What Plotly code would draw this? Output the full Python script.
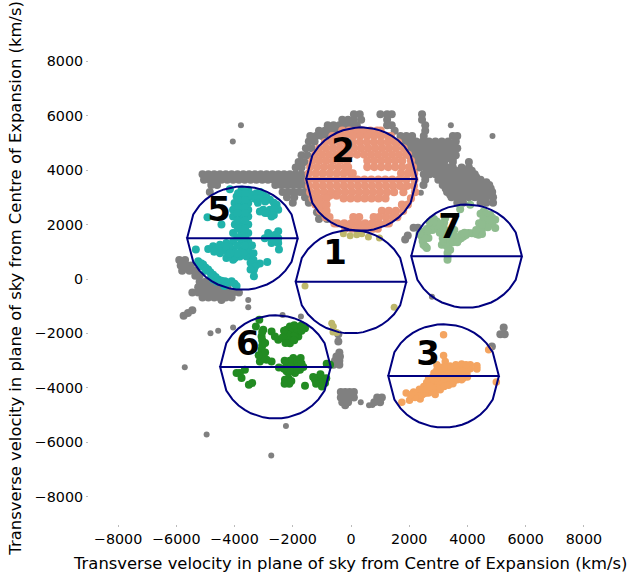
import numpy as np
import plotly.graph_objects as go

title_text = "Transverse velocity in plane of sky from Centre of Expansion (km/s)"
tick_vals = [-8000, -6000, -4000, -2000, 0, 2000, 4000, 6000, 8000]

gray_rows = [
    (6050, [100, 300, 1010, 1240, 1400, 2440]),
    (5850, [-300, -100, 100, 350, 1240, 2440]),
    (5650, [-800, -600, -400, -200, 0, 200, 1240, 1400, 2550]),
    (5450, [-1100, -900, -700, -500, -300, -100, 1500, 2550]),
    (5250, [-1400, -1200, -1000, -800, -600, -400, 1700, 1900, 2100, 2500, 3500, 3650]),
    (5050, [-1450, -1250, 1800, 2020, 2240, 2460, 2680, 2900, 3120, 3340, 3600]),
    (4925, [2000, 2200, 2400, 2600, 2800, 3000, 3200, 3400]),
    (4800, [-1550, -1350, 1900, 2100, 2300, 2500, 2700, 2900, 3100, 3300, 3500, 3650]),
    (4675, [2100, 2300, 2500, 2700, 2900, 3100, 3300, 3500]),
    (4550, [-1700, -1500, 2000, 2200, 2400, 2600, 2800, 3000, 3200, 3400, 3600]),
    (4425, [2300, 2500, 2700, 2900, 3100, 3300, 3500]),
    (4300, [-1800, -1600, 2200, 2400, 2600, 2800, 3000, 3200, 3500, 4050]),
    (4100, [-1900, -1700, 2350, 2550, 2750, 2950, 3150, 3350, 3500, 3800, 4050]),
    (3975, [2600, 2800, 3000, 3200, 3400, 3600, 3900, 4150]),
    (3850, [-5100, -4900, -4700, -4500, -4300, -4100, -3900, -3700, -3500, -3300, -3100, -2900, -2700, -2500, -2300, -2100, -1900, -1700, 2500, 2700, 2900, 3100, 3300, 3500, 3700, 3900, 4100, 4250]),
    (3750, [-5000, -4800, -4600, -4400, -4200, -4000, -3800, -3600, -3400, -3200, -3000, -2800, -2600, -2400, -2200, -2000, -1800, 3100, 3300, 3500, 3700, 3900, 4100, 4300]),
    (3650, [-5050, -4850, -4650, -4450, -4250, -4050, -3850, -3650, -3450, -3250, -3050, -2850, -2650, -2450, -2250, -2050, -1850, -1650, 2550, 3000, 3200, 3400, 3600, 3800, 4000, 4200, 4450]),
    (3550, [3250, 3450, 3650, 3850, 4050, 4250, 4450, 4650]),
    (3450, [-4800, -4600, -2600, -2400, -2200, -2000, -1800, -1600, 2490, 3150, 3350, 3550, 3750, 3950, 4150, 4350, 4550, 4750]),
    (3325, [3250, 3450, 3650, 3850, 4050, 4250, 4450, 4650, 4800]),
    (3200, [-4850, -2350, -2150, -1950, -1750, -1550, 3300, 3500, 3700, 3900, 4100, 4300, 4500, 4700, 4850]),
    (3100, [3400, 3600, 3800, 4000, 4200, 4400, 4600, 4800]),
    (3000, [-2200, -1950, -1580, 3450, 3650, 3850, 4050, 4250, 4450, 4650, 4880]),
    (2800, [-2000, -1450, 3650, 3850, 4450, 4650, 4880]),
    (2450, [-1170, -950]),
    (2200, [-1100, -820]),
    (1880, [2150, 2300]),
    (1600, [1950]),
    (1450, [1860]),
    (700, [-5900, -5700]),
    (500, [-5850, -5650, -5500]),
    (300, [-5800, -5550, -5350]),
    (120, [-5350, -5200]),
    (-100, [-5200, -5000, -4800]),
    (-300, [-5250, -5050, -4850, -4650, -4450, -4250]),
    (-500, [-5450, -5250, -5050, -4850, -4650, -4450, -4250, -4050, -3850]),
    (-680, [-5100, -4900, -4700, -4500, -4300, -4100]),
    (-770, [-4450]),
    (-1150, [-5450]),
    (-1250, [-5600]),
    (-1350, [-5750]),
    (-1780, [5245]),
    (-2030, [-435, 5130, 5280]),
    (-2300, [-435]),
    (-2480, [4840]),
    (-2700, [-400]),
    (-2850, [-500, -380]),
    (-3000, [-550, -400]),
    (-3150, [-600, -400]),
    (-4150, [-350, -200, -50, 100]),
    (-4350, [-350, -200, -50, 100, 1060, 900]),
    (-4530, [-300, -100, 800, 1000]),
    (-4640, [-200]),
]

single_x = [-3780, -4060, 3430, 4860, -3530, -3530, -4050, -4563, -4827, -2350, -1720, -5710, -2235, -4960, -2740,
            335, 620, 735, 2780, 2400]
single_y = [5650, 5050, 5650, 5250, -770, -1040, -1780, -1905, -1990, -1320, -1380, -3245, -5400, -5710, -6480,
            -4530, -4640, -4630, -650, 3170]

red_rows = [
    (5450, [-300, -60, 180, 420, 660, 900, 1020]),
    (5250, [-640, -400, -160, 80, 320, 560, 800, 1040, 1280, 1370]),
    (5020, [-900, -660, -420, -180, 60, 300, 540, 780, 1020, 1260, 1500, 1620]),
    (4800, [-1090, -850, -610, -370, -130, 110, 350, 590, 830, 1070, 1310, 1550, 1810]),
    (4570, [-1230, -990, -750, -510, -270, -30, 210, 450, 690, 930, 1170, 1410, 1650, 1890, 1960]),
    (4340, [-1330, -1090, -850, -610, -370, -130, 560, 800, 1040, 1280, 1520, 1760, 2060]),
    (4110, [-1400, -1160, -920, -680, -440, -200, -100, 560, 800, 1040, 1280, 1520, 1760, 2000, 2130]),
    (3880, [-1450, -1210, -970, -730, -490, -250, -10, 60, 1720, 1960, 2170]),
    (3650, [-1460, -1220, -980, -740, -500, -260, -20, 220, 460, 700, 940, 1180, 1420, 1660, 1900, 2180]),
    (3420, [-1440, -1200, -960, -720, -480, -240, 0, 240, 480, 720, 960, 1200, 1440, 1680, 1920, 2160]),
    (3190, [-1400, -1160, -920, -680, -440, -200, 40, 280, 520, 760, 1000, 1240, 1480, 1800, 2200]),
    (3060, [-735, -495]),
    (2960, [-1320, -1080, -840, -255, -15, 225, 465, 705, 945, 1185, 2060]),
    (2730, [-1220, -980, -840, 1750, 1950]),
    (2500, [-1060, -840, 1060, 1300, 1540, 1790]),
    (2270, [-870, -740, 80, 280, 780, 960, 1200, 1440, 1590]),
    (2040, [-570, -470, -230, 10, 250, 490, 730, 970, 1210, 1300]),
    (1850, [-200, 40, 280, 520, 760, 920]),
]

teal_x = [-4160, -3760, -3530, -3930, -3700, -3470, -3240, -3015, -2785, -2555, -2500, -2785, -2730, -3015, -3130,
          -4000, -3760, -3530, -4050, -3760, -3530, -4050, -3760, -3530, -4450, -4930, -3990, -3760, -3530,
          -4050, -3760, -3530, -4050, -3760, -3530, -4280, -4500, -4735, -4905, -4500, -4280, -4050, -3760, -3530,
          -3470, -3240, -3130, -3335, -3335, -3590, -3820, -3990, -4280, -4050, -2877, -5330, -2475, -2845, -2500,
          -2960, -2730, -2500, -2730, -2500, -5250, -5150, -5080, -4907, -4735, -4560, -4330, -4100, -3930, -4330, -4735,
          -3880, -3640, -3350, -3120, -2900, -2650, -2620, -2950, -2850, -2700, -3880, -3640, -3880, -3640, -3900, -3640,
          -3900, -3640, -3880, -3640, -3900, -3640, -3900, -3640, -3400, -4170, -4400, -4620, -3350, -3350, -3700, -3900,
          -4170, -5170, -5000, -4830, -4650, -4450, -4220, -4000, -2850, -2620, -2620,
          -3150, -2950, -2650, -2650, -3300, -3200, -3450, -3300, -3450, -5000, -4800, -4600, -4350, -4700, -4300, -4500, -4150]
teal_y = [3300, 3275, 3275, 3030, 3030, 3030, 3150, 3090, 2910, 2725, 2540, 2540, 2300, 2540, 2480,
          2790, 2725, 2790, 2540, 2540, 2540, 2300, 2300, 2300, 2000, 2270, 2000, 2000, 2000,
          1690, 1690, 1690, 1380, 1380, 1380, 1320, 1260, 1200, 1100, 1020, 1020, 1080, 1080, 1080,
          830, 530, 570, 340, 100, 830, 830, 770, 770, 710, 625, 1080, 1080, 1690, 1750,
          1500, 1500, 1500, 1320, 1320, 650, 580, 530, 345, 160, -20, -80, -80, -260, -200, -20,
          3150, 3150, 3100, 3200, 3000, 2800, 2620, 2420, 2420, 2450, 2900, 2900, 2630, 2630, 2420, 2420,
          2150, 2150, 1850, 1850, 1530, 1530, 1230, 1230, 1230, 1180, 1150, 1120, 950, 700, 950, 950,
          900, 470, 420, 250, 70, -60, -130, -170, 1550, 1620, 1400,
          2950, 2850, 2550, 2350, 2950, 2800, 600, 450, 350, 300, 100, -100, -260, 1000, 1200, 950, 950]

green_x = [-3150, -3267, -3014, -3072, -3014, -3072, -3014, -3130, -2900, -2728, -2728, -2498, -2613, -2269, -2097,
           -1925, -1695, -1580, -1810, -2040, -2212, -2212, -2040, -1810, -2097, -1982, -1730, -1925, -2212, -2040,
           -2212, -1925, -1638, -2475, -1753, -3645, -3817, -3932, -3760, -3508, -3393, -2212, -2120, -2269, -1580,
           -1179, -1007, -1122, -893, -835, -720, -1237, -2150, -1850, -1925, -2100,
           -2150, -2000, -1850, -1700, -2150, -1950, -2120, -3050, -3050, -3050, -3050, -3050, -2100, -1850, -2100,
           -1950, -1800, -2120, -2150, -1150, -1050, -1000,
           -2300, -2350, -1950, -1700, -1950, -2250, -2950, -2950, -3170, -2100, -2300, -1850, -1700, -2280, -1300,
           -1200, -1000, -850, -2280, -2050]
green_y = [-1500, -1746, -1868, -2112, -2356, -2600, -2844, -3027, -2966, -3027, -1929, -2234, -2112, -2051, -1746,
           -1746, -1807, -1807, -1990, -1990, -1868, -2173, -2234, -2112, -2356, -2905, -2905, -3088, -3149, -3271,
           -3393, -3454, -3234, -3247, -3332, -3332, -3454, -3454, -3637, -3881, -3820, -3759, -3844, -3698, -3918,
           -3637, -3637, -3820, -3820, -3112, -3149, -3698, -3050, -3250, -1880, -2100,
           -1850, -1850, -1850, -1900, -2050, -2100, -2250, -1950, -2250, -2450, -2720, -2950, -3000, -3000, -3200,
           -3350, -3200, -3400, -3650, -3750, -3500, -3800,
           -1900, -2150, -1700, -1700, -2250, -2350, -2350, -2700, -2800, -3350, -3300, -3350, -3100, -3000, -3600,
           -3850, -3950, -3650, -3850, -3750]

orange_x = [3180, 3180, 3237, 4728, 4992, 4326, 4326, 4097, 3868, 3638, 3409, 3180, 2950, 2950, 2663, 3982, 3868,
            3638, 3409, 3180, 2893, 3524, 3294, 3065, 2835, 2606, 2492, 2262, 2090, 1895, 2010, 1746, 2377, 2893,
            2663, 3065, 2950, 3100, 4097, 3750, 3300, 2800, 2450,
            3750, 3520, 3300, 3050, 2800, 3500, 3300, 3100, 2950, 2750, 3750, 2950, 2700, 2550, 2350, 2200, 2950,
            2800, 4000, 3850, 3450, 3250,
            3600, 3400, 3200, 3800, 3950, 3000, 3700, 3550, 3350, 3150, 3000, 2850, 2750, 2600, 2500, 2350, 2150,
            2050, 2600, 2800, 2700, 3200, 3350, 3500, 3650, 3850, 4000, 3800]
orange_y = [-2050, -2807, -3027, -2600, -3783, -3186, -3308, -3149, -3234, -3271, -3332, -3393, -3332, -3515, -3674,
            -3454, -3454, -3515, -3576, -3637, -3698, -3759, -3820, -3881, -3942, -3942, -4064, -4186, -4308, -4186,
            -4454, -4528, -4406, -4247, -4186, -4064, -3149, -3240, -3300, -3400, -3500, -3800, -4250,
            -3300, -3350, -3450, -3450, -3600, -3650, -3700, -3750, -3800, -3850, -3550, -3650, -4050, -4200, -4250,
            -4350, -4000, -4150, -3300, -3380, -3450, -3550,
            -3150, -3200, -3250, -3120, -3150, -3350, -3600, -3500, -3650, -3550, -3550, -3450, -3750, -3800, -3950,
            -4050, -4150, -4250, -4050, -4000, -3950, -3950, -3900, -3850, -3700, -3650, -3600, -3700]

sage_x = [3750, 4095, 4553, 4780, 4955, 4955, 4668, 4496, 4382, 4037, 3865, 3693, 3521, 3292, 3177, 3235, 2948, 2718,
          2489, 2432, 2489, 2661, 3235, 3407, 3315, 3315, 3120, 2604, 3400, 3550, 3300, 4700, 4550,
          4600, 4850, 4850, 4550, 4400, 4150, 3950, 3780, 3600, 3400, 3250, 3200, 3050, 2830, 2600, 2460, 2460, 2550,
          3180, 3320, 3320, 3340,
          4450, 4650, 4750, 4550, 4400, 4300, 4500, 4700, 4500, 4300, 2800, 2650, 3000, 2700, 2850, 2550, 2350,
          3150, 3050, 3400, 3500, 3650, 3800, 3900]
sage_y = [2565, 2724, 2480, 2358, 2175, 1870, 2053, 1809, 1626, 1687, 1565, 1443, 1626, 1565, 1931, 2236, 2114, 1931,
          1748, 1565, 1260, 1504, 1260, 1077, 711, 955, 1260, 1138, 1700, 1800, 1750, 2300, 2150,
          2250, 2250, 2000, 1950, 1750, 1680, 1620, 1500, 1550, 1600, 1750, 2080, 2030, 2020, 1840, 1650, 1400, 1200,
          1380, 1170, 830, 1430,
          2400, 2400, 2150, 2200, 2050, 1650, 1650, 1900, 2000, 1800, 1800, 1750, 1850, 2100, 2200, 1500, 1650,
          1500, 1700, 1400, 1350, 1350, 1650, 1700]

khaki_x = [-262, -30, 197, 598, 977, 370, -1580, 1482, -663, -606, -491, -620]
khaki_y = [1664, 1590, 1627, 1540, 1505, 1664, -260, -1038, -1624, -1746, -1966, -1950]

circle_labels = ["1", "2", "3", "5", "6", "7"]
circle_cx = [0, 360, 3180, -3730, -2595, 3970]
circle_cy = [-100, 3670, -3560, 1500, -3230, 840]
circle_r = 1900
label_x = [-550, -275, 2650, -4535, -3540, 3400]
label_y = [880, 4620, -2860, 2460, -2495, 1835]


def expand(rows):
    xs, ys = [], []
    for y, row in rows:
        for x in row:
            xs.append(x)
            ys.append(y)
    return xs, ys


fig = go.Figure()


def scatter(x, y, color, size=7.5):
    fig.add_trace(go.Scatter(x=x, y=y, mode="markers", showlegend=False,
                             marker=dict(color=color, size=size, line=dict(width=0))))


gx, gy = expand(gray_rows)
rx, ry = expand(red_rows)
scatter(gx, gy, "#808080", 8)
scatter(single_x, single_y, "#808080", 6)
scatter(rx, ry, "#E9967A", 8.2)
scatter(khaki_x, khaki_y, "#BDB76B", 7)
scatter(orange_x, orange_y, "#F4A460", 7.5)
scatter(teal_x, teal_y, "#20B2AA", 8)
scatter(green_x, green_y, "#228B22", 8)
scatter(sage_x, sage_y, "#8FBC8F", 8)

for cx, cy in zip(circle_cx, circle_cy):
    t = np.linspace(-1, 1, 19)
    h = np.sqrt(np.clip(1 - t ** 2, 0, None))
    px = np.concatenate([t, t[::-1], t]) * circle_r + cx
    py = np.concatenate([h, 0 * t, -h]) * circle_r + cy
    fig.add_trace(go.Scatter(x=px, y=py, mode="lines", showlegend=False,
                             line=dict(color="#000080", width=2)))

fig.add_trace(go.Scatter(x=label_x, y=label_y, mode="text", text=circle_labels, showlegend=False,
                         textposition="middle center",
                         textfont=dict(family="DejaVu Sans", size=34, color="black", weight="bold")))

axis = dict(range=[-9000, 9000], tickvals=tick_vals, showgrid=False, zeroline=False, showline=False,
            automargin=False, ticks="outside", ticklen=2, tickwidth=1, tickcolor="#bbbbbb",
            tickfont=dict(family="DejaVu Sans", size=14.3, color="black"))

title_font = dict(family="DejaVu Sans", size=16.4, color="black")
fig.update_layout(
    width=627, height=580, autosize=False,
    margin=dict(l=89, r=14, t=34, b=56),
    plot_bgcolor="white", paper_bgcolor="white",
    xaxis=axis, yaxis=axis,
    annotations=[
        dict(text=title_text, xref="paper", yref="paper", x=0.498, y=-0.0816, xanchor="center", yanchor="middle",
             showarrow=False, font=title_font),
        dict(text=title_text, xref="paper", yref="paper", x=-0.141, y=0.501, xanchor="center", yanchor="middle",
             textangle=-90, showarrow=False, font=title_font),
    ],
)

fig.write_html("out.html", config=dict(displayModeBar=False),
               post_script="document.body.style.margin='0';document.body.style.overflow='hidden';")
